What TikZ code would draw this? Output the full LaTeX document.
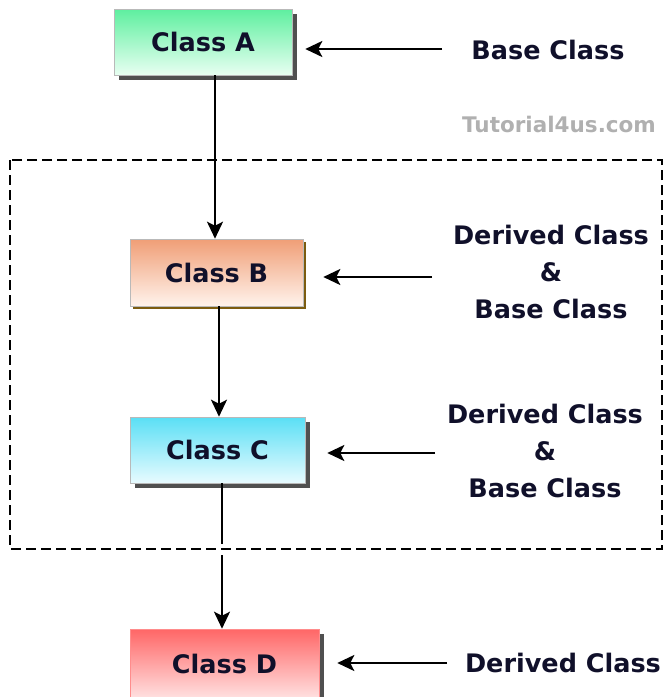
\documentclass[tikz,border=0pt]{standalone}
\usepackage{fontspec}
\setmainfont{DejaVu Sans}
\usetikzlibrary{arrows.meta,shadows}
\definecolor{txt}{HTML}{10102A}
\definecolor{aTop}{HTML}{5EEF9F}
\definecolor{aBot}{HTML}{E8FFF2}
\definecolor{bTop}{HTML}{F09E76}
\definecolor{bBot}{HTML}{FFF3EC}
\definecolor{cTop}{HTML}{5ADFF5}
\definecolor{cBot}{HTML}{E8FBFF}
\definecolor{dTop}{HTML}{FF6666}
\definecolor{dBot}{HTML}{FFE2E2}
\definecolor{shGray}{HTML}{505050}
\definecolor{shBrown}{HTML}{7C5C10}
\definecolor{wm}{HTML}{B0B0B0}
\begin{document}
\begin{tikzpicture}[x=1pt,y=-1pt,
  every node/.style={font=\fontsize{25.5}{37}\selectfont\bfseries, text=txt, inner sep=0pt},
  cls/.style={rectangle, draw=gray!55, line width=0.6pt, minimum height=66pt},
  shg/.style={drop shadow={shadow xshift=5pt, shadow yshift=-5pt, fill=shGray, opacity=1}},
  shb/.style={drop shadow={shadow xshift=3pt, shadow yshift=-3pt, fill=shBrown, opacity=1}},
  lbl/.style={align=center},
  arr/.style={line width=2.2pt, draw=black, -{Stealth[length=17pt,width=16pt,inset=4pt]}},
  frame/.style={draw=black, line width=1.3pt, dash pattern=on 10pt off 5pt}
]
\useasboundingbox (0,0) rectangle (666,697);
\clip (0,0) rectangle (666,697);

% class boxes
\node[cls, shg, minimum width=178pt, top color=aTop, bottom color=aBot] (A) at (203,42) {Class A};
\node[cls, shb, minimum width=173pt, minimum height=67pt, top color=bTop, bottom color=bBot] (B) at (216.5,272.5) {Class B};
\node[cls, shg, minimum width=175pt, top color=cTop, bottom color=cBot] (C) at (217.5,450) {Class C};
\node[cls, shg, draw=red!45, minimum width=189pt, minimum height=70pt, top color=dTop, bottom color=dBot] (D) at (224.5,664) {Class D};

% labels
\node[lbl] (lA) at (548,50) {Base Class};
\node[lbl] (lB) at (551,272) {Derived Class\\\&\\Base Class};
\node[lbl] (lC) at (545,451) {Derived Class\\\&\\Base Class};
\node[lbl] (lD) at (563,663) {Derived Class};
\node[font=\fontsize{21.5}{24}\selectfont\bfseries, text=wm] (wm) at (559,124) {Tutorial4us.com};

% arrow tails
\coordinate (tA) at (442,49);
\coordinate (tB) at (432,277);
\coordinate (tC) at (435,453);
\coordinate (tD) at (447,663);

% vertical inheritance arrows
\draw[arr] ([xshift=12pt]A.south) -- ([xshift=-1.5pt]B.north);
\draw[arr] ([xshift=2.5pt]B.south) -- ([xshift=1.5pt]C.north);
\draw[arr] ([xshift=4.5pt]C.south) -- ([xshift=-2.5pt]D.north);
\draw[white, line width=4pt] (222,544) -- (222,555);

% label arrows
\draw[arr, shorten >=13pt] (tA) -- (tA -| A.east);
\draw[arr, shorten >=20pt] (tB) -- (tB -| B.east);
\draw[arr, shorten >=22pt] (tC) -- (tC -| C.east);
\draw[arr, shorten >=18pt] (tD) -- (tD -| D.east);

% dashed frame
\draw[frame] (10,160) rectangle (662,549);
\end{tikzpicture}
\end{document}
